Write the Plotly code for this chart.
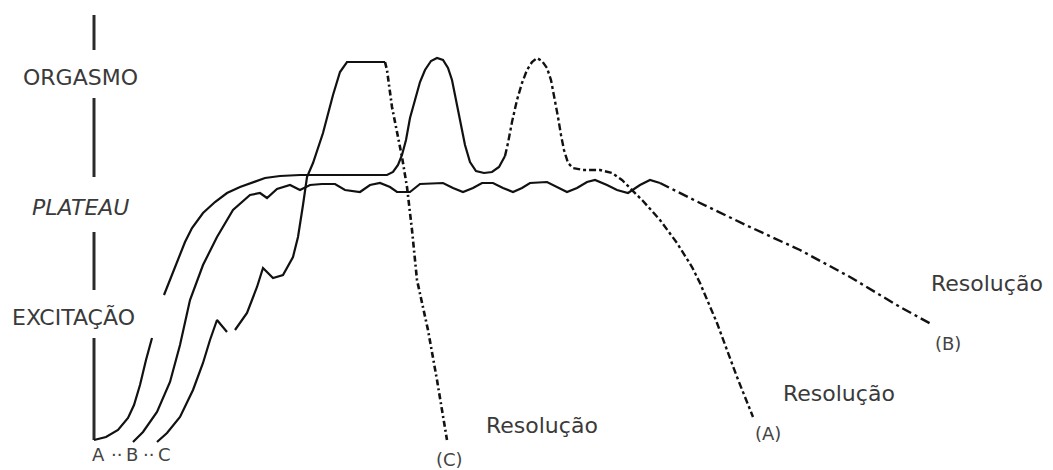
import plotly.graph_objects as go

# ---- Vertical scale (phase axis), level units (0 = baseline) ----
axis_x = [94, 94, None, 94, 94, None, 94, 94, None, 94, 94]
axis_lvl = [425, 390, None, 342, 263, None, 208, 150, None, 102, 0]

# ---- Curve A: multiple orgasms ----
a1_x = [94, 106, 118, 128, 134, 140, 146, 152, None,
        164, 170, 177, 185, 192, 203, 215, 227, 240, 253, 265, 280, 300, 387,
        393, 398, 402, 406, 410, 415, 420, 425, 431, 437, 443, 448, 452, 457,
        461, 465, 470, 476, 484, 492, 499, 505]
a1_lvl = [0, 3, 10, 22, 35, 55, 80, 102, None,
          145, 160, 178, 198, 212, 227, 238, 247, 253, 258, 262, 264, 265, 265,
          268, 275, 285, 300, 322, 340, 358, 370, 379, 382, 380, 372, 360, 335,
          315, 295, 278, 269, 267, 268, 273, 284]
a2_x = [505, 508, 512, 517, 522, 527, 532, 537, 542, 547, 551, 555, 558, 561,
        564, 568, 573, 583, 600, 612, 622, 630, 643, 660, 677, 692, 700, 717,
        737, 753]
a2_lvl = [284, 297, 318, 340, 357, 370, 378, 382, 379, 372, 360, 340, 323, 305,
          290, 277, 272, 270, 270, 267, 260, 252, 239, 220, 197, 173, 157, 117,
          63, 23]

# ---- Curve B: plateau without orgasm ----
b1_x = [133, 143, 157, 170, 180, 190, 203, 217, 233, 250, 260, 267, 277, 290,
        300, 310, 322, 335, 345, 360, 370, 380, 390, 397, 410, 420, 443, 453,
        463, 473, 482, 493, 503, 513, 522, 530, 547, 557, 567, 577, 587, 595,
        607, 617, 628, 640, 650, 660]
b1_lvl = [-2, 8, 28, 58, 95, 140, 175, 203, 230, 245, 247, 242, 251, 255,
          250, 255, 256, 256, 250, 248, 255, 257, 253, 248, 248, 256, 257, 252,
          248, 252, 257, 257, 252, 248, 252, 257, 258, 253, 248, 252, 258, 260,
          255, 250, 247, 255, 260, 257]
b2_x = [660, 700, 750, 800, 850, 900, 933]
b2_lvl = [257, 237, 213, 190, 163, 133, 115]

# ---- Curve C: rapid, single intense orgasm ----
c1_x = [157, 167, 180, 193, 203, 210, 217, 223, 227, None,
        235, 247, 257, 263, 273, 283, 293, 298, 303, 307, 313, 323, 333, 340,
        347, 385]
c1_lvl = [-2, 7, 23, 50, 77, 100, 120, 113, 108, None,
          110, 127, 153, 172, 162, 165, 183, 203, 235, 263, 277, 307, 345, 368,
          378, 378]
c2_x = [385, 387, 392, 397, 402, 407, 412, 417, 428, 437, 447]
c2_lvl = [378, 370, 333, 307, 283, 253, 210, 160, 110, 60, 0]

# ---- Labels ----
phase_labels = ["ORGASMO", "<i>PLATEAU</i>", "EXCITAÇÃO"]
phase_x = [80, 80, 73]
phase_lvl = [363, 233, 123]

res_labels = ["Resolução", "Resolução", "Resolução"]
res_x = [542, 839, 987]
res_lvl = [15, 47, 157]

end_labels = ["(C)", "(A)", "(B)"]
end_x = [449, 768, 948]
end_lvl = [-19, 7, 97]

start_labels = ["A", "··", "B", "··", "C"]
start_x = [98, 116, 132, 148, 164]
start_lvl = [-14, -14, -14, -14, -14]

INK = "#111111"
TXT = "#3a3a3a"
FONT = "DejaVu Sans"

fig = go.Figure()

fig.add_trace(go.Scatter(x=axis_x, y=axis_lvl, mode="lines",
                         line=dict(color="#2a2a2a", width=3)))
fig.add_trace(go.Scatter(x=a1_x, y=a1_lvl, mode="lines",
                         line=dict(color=INK, width=2.2)))
fig.add_trace(go.Scatter(x=a2_x, y=a2_lvl, mode="lines",
                         line=dict(color=INK, width=2.4, dash="7px,3px,3px,3px")))
fig.add_trace(go.Scatter(x=b1_x, y=b1_lvl, mode="lines",
                         line=dict(color=INK, width=2.2)))
fig.add_trace(go.Scatter(x=b2_x, y=b2_lvl, mode="lines",
                         line=dict(color=INK, width=2.4, dash="10px,4px,3px,4px")))
fig.add_trace(go.Scatter(x=c1_x, y=c1_lvl, mode="lines",
                         line=dict(color=INK, width=2.2)))
fig.add_trace(go.Scatter(x=c2_x, y=c2_lvl, mode="lines",
                         line=dict(color=INK, width=2.6, dash="6px,3px,2px,3px")))

for t, x, y in zip(phase_labels, phase_x, phase_lvl):
    fig.add_annotation(x=x, y=y, text=t, showarrow=False,
                       font=dict(family=FONT, size=22, color=TXT),
                       xanchor="center", yanchor="middle")
for t, x, y in zip(res_labels, res_x, res_lvl):
    fig.add_annotation(x=x, y=y, text=t, showarrow=False,
                       font=dict(family=FONT, size=22, color=TXT),
                       xanchor="center", yanchor="middle")
for t, x, y in zip(end_labels, end_x, end_lvl):
    fig.add_annotation(x=x, y=y, text=t, showarrow=False,
                       font=dict(family=FONT, size=18, color="#444444"),
                       xanchor="center", yanchor="middle")
for t, x, y in zip(start_labels, start_x, start_lvl):
    fig.add_annotation(x=x, y=y, text=t, showarrow=False,
                       font=dict(family=FONT, size=18, color="#444444"),
                       xanchor="center", yanchor="middle")

# page body has an 8px default margin: size/range compensate for it
fig.update_layout(
    width=1045, height=462,
    margin=dict(l=0, r=0, t=0, b=0),
    paper_bgcolor="white", plot_bgcolor="white",
    showlegend=False,
    xaxis=dict(range=[8, 1053], visible=False, fixedrange=True),
    yaxis=dict(range=[-30, 432], visible=False, fixedrange=True),
)

fig.write_html("out.html")
